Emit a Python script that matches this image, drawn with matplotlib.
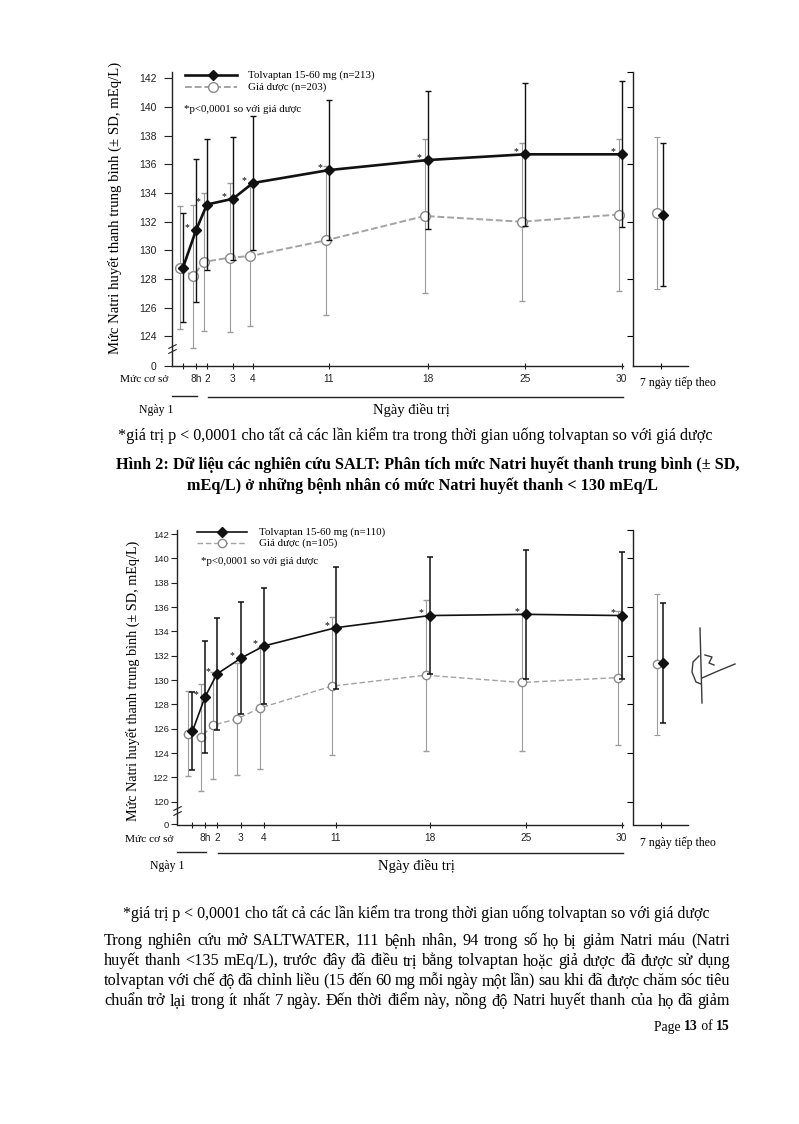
import numpy as np
import matplotlib
matplotlib.use('Agg')
import matplotlib.pyplot as plt
from matplotlib.lines import Line2D
from matplotlib.transforms import ScaledTranslation

# ---- du lieu doc tu hinh ----
visits = ['Mức cơ sở', '8h', '2', '3', '4', '11', '18', '25', '30']
visit_days = [0, 1 / 3, 2, 3, 4, 11, 18, 25, 30]

# Hinh tren (n=213 / n=203)
tol1_mean = [128.8, 131.4, 133.2, 133.6, 134.7, 135.6, 136.3, 136.7, 136.7]
tol1_sd = [3.8, 5.0, 4.6, 4.3, 4.7, 4.9, 4.8, 5.0, 5.1]
pla1_mean = [128.8, 128.2, 129.2, 129.5, 129.6, 130.7, 132.4, 132.0, 132.5]
pla1_sd = [4.3, 5.0, 4.8, 5.2, 4.9, 5.2, 5.4, 5.5, 5.3]
tol1_follow, tol1_follow_sd = 132.5, 5.0
pla1_follow, pla1_follow_sd = 132.6, 5.3
yticks1 = [124, 126, 128, 130, 132, 134, 136, 138, 140, 142]

# Hinh duoi (n=110 / n=105)
tol2_mean = [125.8, 128.6, 130.5, 131.8, 132.8, 134.3, 135.3, 135.4, 135.3]
tol2_sd = [3.2, 4.6, 4.6, 4.6, 4.8, 5.0, 4.8, 5.3, 5.2]
pla2_mean = [125.6, 125.3, 126.3, 126.8, 127.7, 129.5, 130.4, 129.8, 130.2]
pla2_sd = [3.5, 4.4, 4.4, 4.6, 5.0, 5.7, 6.2, 5.6, 5.5]
tol2_follow, tol2_follow_sd = 131.4, 4.9
pla2_follow, pla2_follow_sd = 131.3, 5.8
yticks2 = [120, 122, 124, 126, 128, 130, 132, 134, 136, 138, 140, 142]

SERIF = ['Liberation Serif', 'DejaVu Serif']
SANS = ['Liberation Sans', 'DejaVu Sans']
W, H = 799, 1124
PLA_LINE = '#a3a3a3'
PLA_EDGE = '#8a8a8a'
PLA_BAR = '#9c9c9c'

fig = plt.figure(figsize=(W / 100, H / 100), dpi=100)
fig.patch.set_facecolor('white')


def fx(x):
    return x / W


def fy(y):
    return 1 - y / H


def px_axes(l, t, r, b):
    return fig.add_axes([fx(l), fy(b), (r - l) / W, (b - t) / H])


def hline(x0, x1, y, lw=1.0, color='#222222'):
    fig.add_artist(Line2D([fx(x0), fx(x1)], [fy(y), fy(y)], lw=lw, color=color))


def break_scale(brk, k):
    fwd = lambda v: np.where(v >= brk, v, brk - (brk - v) * k)
    inv = lambda u: np.where(u >= brk, u, brk - (brk - u) / k)
    return fwd, inv


def draw_chart(c):
    kd = [-0.55] + visit_days + [30.1]
    kp = c['knots']
    fwd, inv = break_scale(c['brk'], c['k'])

    ax = px_axes(c['left'], c['top'], 623, c['bottom'])
    ax.set_xscale('function', functions=(lambda d: np.interp(d, kd, kp),
                                         lambda p: np.interp(p, kp, kd)))
    ax.set_yscale('function', functions=(fwd, inv))
    ax.set_xlim(kd[0], kd[-1])
    ax.set_ylim(0, c['ytop'])
    ax.patch.set_alpha(0)

    shift = ScaledTranslation(c['dx'] / 100, 0, fig.dpi_scale_trans)
    ax.errorbar(visit_days, c['pla_mean'], yerr=c['pla_sd'], color=PLA_LINE,
                ls=(0, c['dash']), lw=c['plw'], marker='o', ms=c['cms'],
                mfc='white', mec=PLA_EDGE, mew=1.0, ecolor=PLA_BAR,
                elinewidth=0.8, capsize=2.5, capthick=0.8,
                transform=ax.transData + shift, zorder=2, clip_on=False)
    ax.errorbar(visit_days, c['tol_mean'], yerr=c['tol_sd'], color='#111111',
                lw=c['tlw'], marker='D', ms=c['dms'], ecolor='#111111',
                elinewidth=c['telw'], capsize=2.5, capthick=c['telw'],
                zorder=3, clip_on=False)
    for d, m in zip(visit_days[1:], c['tol_mean'][1:]):
        ax.annotate('*', (d, m), xytext=(-9, 0), textcoords='offset pixels',
                    ha='center', va='baseline', fontsize=7, family=SERIF)

    for s in ['top', 'right']:
        ax.spines[s].set_visible(False)
    for s in ['left', 'bottom']:
        ax.spines[s].set_linewidth(1.0)
        ax.spines[s].set_color('#222222')

    ax.set_yticks([0] + c['yticks'])
    ax.set_yticklabels(['0'] + [str(v) for v in c['yticks']])
    ax.tick_params(axis='y', direction='out', length=c['ytl'], width=0.8,
                   pad=c['ypad'], labelsize=c['yls'], colors='#222222')
    ax.set_xticks(visit_days)
    ax.set_xticklabels([''] + visits[1:])
    ax.tick_params(axis='x', direction='inout', length=4, width=0.8, pad=4,
                   labelsize=7.3, colors='#222222')
    for t in ax.get_yticklabels() + ax.get_xticklabels():
        t.set_fontfamily(SANS)

    # dau ngat truc y
    bt = ax.get_yaxis_transform()
    ax.plot([0, 0], c['brk_marks'], transform=bt, ls='none', color='#222222',
            marker=[(-1, -0.5), (1, 0.5)], ms=6, mew=0.8, clip_on=False)

    # panel 7 ngay tiep theo
    axr = px_axes(633, c['top'], 688, c['bottom'])
    axr.set_yscale('function', functions=(fwd, inv))
    axr.set_ylim(0, c['ytop'])
    axr.set_xlim(0, 1)
    axr.patch.set_alpha(0)
    for s in ['top', 'right']:
        axr.spines[s].set_visible(False)
    for s in ['left', 'bottom']:
        axr.spines[s].set_linewidth(1.0)
        axr.spines[s].set_color('#222222')
    axr.set_yticks(c['rticks'])
    axr.set_yticklabels([])
    axr.set_xticks([0.5])
    axr.set_xticklabels([])
    axr.tick_params(axis='y', direction='out', length=4, width=0.8)
    axr.tick_params(axis='x', direction='inout', length=4, width=0.8)
    lshift = ScaledTranslation(-3.5 / 100, 0, fig.dpi_scale_trans)
    rshift = ScaledTranslation(2.5 / 100, 0, fig.dpi_scale_trans)
    axr.errorbar([0.5], [c['pla_f']], yerr=[c['pla_f_sd']], marker='o',
                 ms=c['cms'], mfc='white', mec=PLA_EDGE, ecolor=PLA_BAR,
                 elinewidth=0.8, capsize=2.5, capthick=0.8, ls='none',
                 transform=axr.transData + lshift, zorder=2)
    axr.errorbar([0.5], [c['tol_f']], yerr=[c['tol_f_sd']], marker='D',
                 ms=c['dms'], color='#111111', ecolor='#111111',
                 elinewidth=c['telw'], capsize=2.5, capthick=c['telw'],
                 ls='none', transform=axr.transData + rshift, zorder=3)

    # chu thich (legend)
    lx0, lx1, lxm, ly1, ly2, ltx = c['leg']
    fig.add_artist(Line2D([fx(lx0), fx(lx1)], [fy(ly1), fy(ly1)], color='#111111', lw=c['tlw']))
    fig.add_artist(Line2D([fx(lxm)], [fy(ly1)], marker='D', ms=c['dms'], color='#111111'))
    fig.add_artist(Line2D([fx(lx0), fx(lx1)], [fy(ly2), fy(ly2)], color=PLA_LINE,
                          lw=c['plw'], ls=(0, c['dash'])))
    fig.add_artist(Line2D([fx(lxm)], [fy(ly2)], marker='o', ms=c['cms'], mfc='white',
                          mec=PLA_EDGE, mew=1.0))
    fig.text(fx(ltx), fy(ly1), c['leg_tol'], ha='left', va='center', fontsize=7.8, family=SERIF)
    fig.text(fx(ltx), fy(ly2), c['leg_pla'], ha='left', va='center', fontsize=7.8, family=SERIF)
    fig.text(fx(c['ptxt'][0]), fy(c['ptxt'][1]), '*p<0,0001 so với giá dược',
             ha='left', va='center', fontsize=7.8, family=SERIF)

    # nhan truc
    fig.text(fx(c['ylab'][0]), fy(c['ylab'][1]),
             'Mức Natri huyết thanh trung bình (± SD, mEq/L)', rotation=90,
             ha='center', va='center', fontsize=c['ylab'][2], family=SERIF)
    fig.text(fx(c['left'] - 4), fy(c['xlab_y']), 'Mức cơ sở', ha='right', va='center',
             fontsize=8.2, family=SERIF)
    fig.text(fx(640), fy(c['xlab_y'] + 4), '7 ngày tiếp theo', ha='left', va='center',
             fontsize=8.5, family=SERIF)
    uy = c['under_y']
    hline(c['left'], c['knots'][2] + 1, uy)
    hline(c['knots'][3] + 1, 623, uy + 1)
    fig.text(fx(c['ngay1_x']), fy(uy + 14), 'Ngày 1', ha='center', va='center',
             fontsize=8.5, family=SERIF)
    fig.text(fx(c['dieutri_x']), fy(uy + 14), 'Ngày điều trị', ha='center', va='center',
             fontsize=10.5, family=SERIF)


chart1 = dict(left=172, top=72, bottom=366, ytop=142.44, brk=123, k=(123 - 121.94) / 123,
              knots=[172, 183, 196, 207, 233, 253, 329, 428, 525, 622, 623.5],
              tol_mean=tol1_mean, tol_sd=tol1_sd, pla_mean=pla1_mean, pla_sd=pla1_sd,
              tol_f=tol1_follow, tol_f_sd=tol1_follow_sd, pla_f=pla1_follow, pla_f_sd=pla1_follow_sd,
              yticks=yticks1, rticks=[124, 128, 132, 136, 140, 142.44], dx=-3,
              tlw=1.9, telw=1.0, plw=1.4, dash=(3.5, 1.5), dms=5.5, cms=7,
              ytl=6, ypad=5, yls=7.5, brk_marks=[122.95, 123.35],
              leg=(185, 237, 213, 75, 87, 248), leg_tol='Tolvaptan 15-60 mg (n=213)',
              leg_pla='Giá dược (n=203)', ptxt=(184, 110), ylab=(115, 208, 10.6),
              xlab_y=379, under_y=396, ngay1_x=156, dieutri_x=411)

chart2 = dict(left=177, top=530, bottom=824.5, ytop=142.33, brk=119, k=(119 - 118.13) / 119,
              knots=[177, 192.5, 205, 217, 241, 264, 336, 430, 526, 622, 623.5],
              tol_mean=tol2_mean, tol_sd=tol2_sd, pla_mean=pla2_mean, pla_sd=pla2_sd,
              tol_f=tol2_follow, tol_f_sd=tol2_follow_sd, pla_f=pla2_follow, pla_f_sd=pla2_follow_sd,
              yticks=yticks2, rticks=[120, 124, 128, 132, 136, 140, 142.33], dx=-4,
              tlw=1.2, telw=1.1, plw=1.0, dash=(4, 2), dms=5, cms=6,
              ytl=4, ypad=2, yls=6.8, brk_marks=[119.1, 119.45],
              leg=(197, 247, 222, 532, 543, 259), leg_tol='Tolvaptan 15-60 mg (n=110)',
              leg_pla='Giá dược (n=105)', ptxt=(201, 561), ylab=(133, 681, 10.2),
              xlab_y=839, under_y=852, ngay1_x=167, dieutri_x=416)

draw_chart(chart1)
draw_chart(chart2)

# ---- van ban trang ----
BODY = 11.7
foot = '*giá trị p < 0,0001 cho tất cả các lần kiểm tra trong thời gian uống tolvaptan so với giá dược'
fig.text(fx(118), fy(436), foot, ha='left', va='center', fontsize=11.6, family=SERIF)
fig.text(fx(116), fy(465), 'Hình 2: Dữ liệu các nghiên cứu SALT: Phân tích mức Natri huyết thanh trung bình (± SD,',
         ha='left', va='center', fontsize=BODY, family=SERIF, weight='bold')
fig.text(fx(187), fy(486), 'mEq/L) ở những bệnh nhân có mức Natri huyết thanh < 130 mEq/L',
         ha='left', va='center', fontsize=BODY, family=SERIF, weight='bold')
fig.text(fx(123), fy(914), foot, ha='left', va='center', fontsize=11.45, family=SERIF)

renderer = fig.canvas.get_renderer()


def justify(line, y, x0, x1, size):
    words = line.split()
    texts = [fig.text(0, fy(y), w, ha='left', va='center', fontsize=size, family=SERIF)
             for w in words]
    widths = [t.get_window_extent(renderer).width for t in texts]
    gap = (x1 - x0 - sum(widths)) / (len(words) - 1)
    x = x0
    for t, w in zip(texts, widths):
        t.set_x(fx(x))
        x += w + gap


para = [
    'Trong nghiên cứu mở SALTWATER, 111 bệnh nhân, 94 trong số họ bị giảm Natri máu (Natri',
    'huyết thanh <135 mEq/L), trước đây đã điều trị bằng tolvaptan hoặc giả dược đã được sử dụng',
    'tolvaptan với chế độ đã chỉnh liều (15 đến 60 mg mỗi ngày một lần) sau khi đã được chăm sóc tiêu',
    'chuẩn trở lại trong ít nhất 7 ngày. Đến thời điểm này, nồng độ Natri huyết thanh của họ đã giảm',
]
for i, line in enumerate(para):
    justify(line, 941 + 20 * i, 104, 730, BODY)

# Page 13 of 15 (can phai)
x = 730
for piece, wt in reversed([('Page ', 'normal'), ('13', 'bold'), (' of ', 'normal'), ('15', 'bold')]):
    t = fig.text(fx(x), fy(1027), piece, ha='right', va='center', fontsize=9.8,
                 family=SERIF, weight=wt)
    x -= t.get_window_extent(renderer).width

# chu ky tay ben phai hinh duoi
sig = [([700, 701, 702], [628, 665, 703]),
       ([702, 718, 735], [678, 671, 664]),
       ([699, 693, 692, 696, 701], [656, 662, 672, 682, 684]),
       ([705, 712, 709, 714], [655, 657, 663, 665])]
for xs, ys in sig:
    fig.add_artist(Line2D([fx(v) for v in xs], [fy(v) for v in ys], lw=1.0, color='#3a3a3a'))

fig.savefig('out.png', dpi=100, facecolor='white')
